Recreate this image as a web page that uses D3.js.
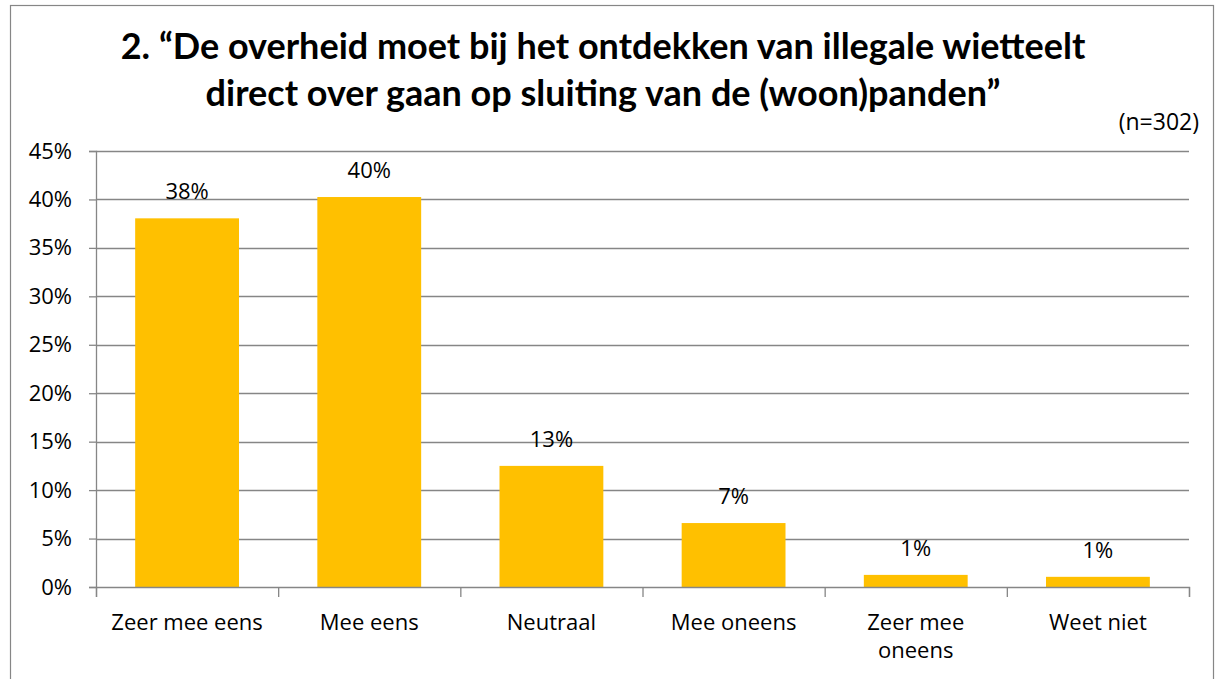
<!DOCTYPE html>
<html>
<head>
<meta charset="utf-8">
<script src="https://cdn.jsdelivr.net/npm/d3@7"></script>
<style>
  body { margin: 0; background: #fff; }
  svg { display: block; font-family: "Open Sans", Lato, sans-serif; }
</style>
</head>
<body>
<div id="chart"></div>
<script>
// data
var categories = ['Zeer mee eens', 'Mee eens', 'Neutraal', 'Mee oneens', 'Zeer mee oneens', 'Weet niet'];
var values = [38.05, 40.25, 12.5, 6.6, 1.25, 1.05];
var labels = ['38%', '40%', '13%', '7%', '1%', '1%'];
var yTicks = [0, 5, 10, 15, 20, 25, 30, 35, 40, 45];
var titleLines = ['2. \u201cDe overheid moet bij het ontdekken van illegale wietteelt',
                  'direct over gaan op sluiting van de (woon)panden\u201d'];

var width = 1215,
    height = 679,
    plotLeft = 96, plotRight = 1189, plotTop = 151, plotBottom = 587;

var svg = d3.select('#chart')
            .append('svg')
            .attr('width', width)
            .attr('height', height);

// outer frame
svg.append('rect')
   .attr('x', 10.5).attr('y', 5.5)
   .attr('width', 1203).attr('height', 700)
   .attr('fill', 'none')
   .attr('stroke', '#868686')
   .attr('stroke-width', 1.2);

svg.selectAll('.title')
   .data(titleLines)
   .enter()
   .append('text')
   .attr('class', 'title')
   .attr('x', 603)
   .attr('y', function(d, i) { return 59 + i * 47; })
   .attr('text-anchor', 'middle')
   .style('font-family', 'Lato, "Open Sans", sans-serif')
   .style('font-size', '36px')
   .style('font-weight', 'bold')
   .text(function(d) { return d; });

svg.append('text')
   .attr('x', 1199)
   .attr('y', 130)
   .attr('text-anchor', 'end')
   .style('font-size', '23px')
   .text('(n=302)');

var xScale = d3.scaleBand()
               .domain(categories)
               .range([plotLeft, plotRight])
               .paddingInner(0.43)
               .paddingOuter(0.215);

var yScale = d3.scaleLinear().domain([0, 45]).range([plotBottom, plotTop]);

// gridlines
svg.append('g')
   .selectAll('line')
   .data(yTicks.slice(1))
   .enter()
   .append('line')
   .attr('x1', plotLeft).attr('x2', plotRight)
   .attr('y1', function(d) { return Math.round(yScale(d)) + 0.5; })
   .attr('y2', function(d) { return Math.round(yScale(d)) + 0.5; })
   .attr('stroke', '#868686')
   .attr('stroke-width', 1.3);

var yAxis = d3.axisLeft(yScale)
              .tickValues(yTicks)
              .tickFormat(function(d) { return d + '%'; })
              .tickSize(7)
              .tickPadding(17);

var gy = svg.append('g')
            .attr('transform', 'translate(' + plotLeft + ',0)')
            .call(yAxis);
gy.selectAll('text').style('font-size', '22px').attr('fill', '#000')
  .attr('font-family', '"Open Sans", Lato, sans-serif');
gy.selectAll('line,path').attr('stroke', '#868686').attr('stroke-width', 1.3);

// bars
svg.selectAll('.bar')
   .data(values)
   .enter()
   .append('rect')
   .attr('class', 'bar')
   .attr('x', function(d, i) { return xScale(categories[i]); })
   .attr('width', xScale.bandwidth())
   .attr('y', function(d) { return yScale(d); })
   .attr('height', function(d) { return plotBottom - yScale(d); })
   .style('fill', '#FFC000');

svg.selectAll('.val')
   .data(values)
   .enter()
   .append('text')
   .attr('class', 'val')
   .attr('x', function(d, i) { return xScale(categories[i]) + xScale.bandwidth() / 2; })
   .attr('y', function(d) { return yScale(d) - 19; })
   .attr('text-anchor', 'middle')
   .style('font-size', '22px')
   .text(function(d, i) { return labels[i]; });

// x axis
var xEdges = d3.scaleLinear().domain([0, categories.length]).range([plotLeft, plotRight]);
var xAxis = d3.axisBottom(xEdges)
              .tickValues(d3.range(categories.length + 1))
              .tickFormat('')
              .tickSize(10)
              .tickSizeOuter(10);
var gx = svg.append('g')
            .attr('transform', 'translate(0,' + plotBottom + ')')
            .call(xAxis);
gx.selectAll('line,path').attr('stroke', '#868686').attr('stroke-width', 1.3);

// category labels, wrapped like the original
var catLines = categories.map(function(c) {
  return c === 'Zeer mee oneens' ? ['Zeer mee', 'oneens'] : [c];
});
svg.selectAll('.cat')
   .data(categories)
   .enter()
   .append('text')
   .attr('class', 'cat')
   .attr('text-anchor', 'middle')
   .attr('y', 630)
   .style('font-size', '22px')
   .each(function(d, i) {
     var t = d3.select(this);
     catLines[i].forEach(function(line, j) {
       t.append('tspan')
        .attr('x', xScale(d) + xScale.bandwidth() / 2)
        .attr('dy', j === 0 ? 0 : 28)
        .text(line);
     });
   });
</script>
</body>
</html>
